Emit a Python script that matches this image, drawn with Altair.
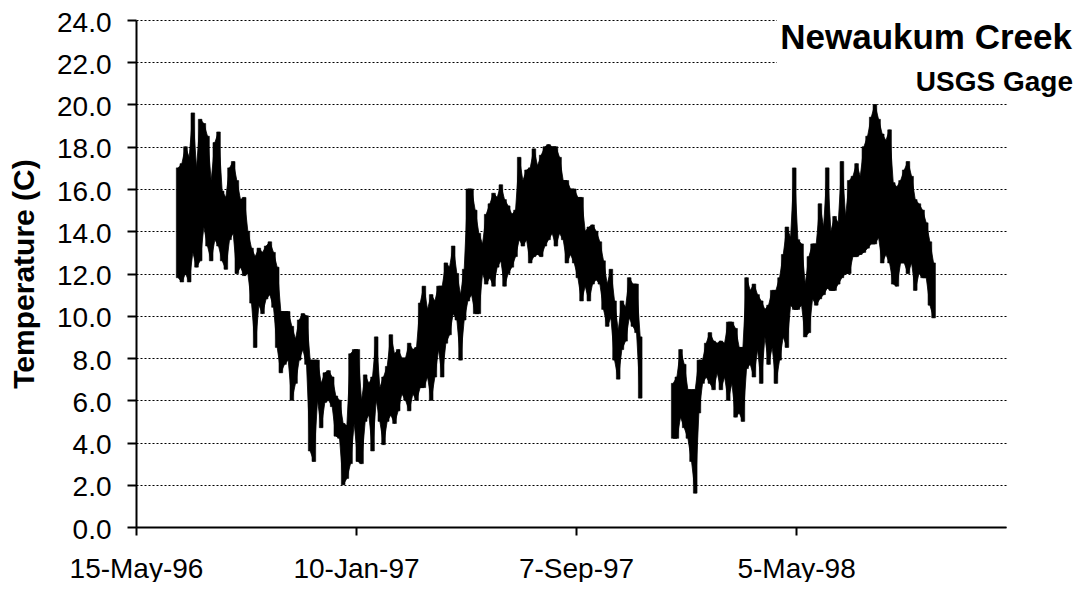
import altair as alt
import pandas as pd

# ---- data (4-day min/max bands) ----
FIRST_DAY_1 = "1996-06-28"
FIRST_DAY_2 = "1997-12-20"
STEP_DAYS = 4

HI_1 = [17.0, 17.2, 18.0, 17.5, 19.6, 17.0, 19.3, 19.1, 18.5, 16.4,
        18.2, 18.7, 15.9, 15.6, 17.0, 17.3, 16.4, 15.5, 15.6, 14.0,
        13.2, 12.8, 13.2, 13.0, 13.3, 13.5, 13.0, 12.3, 10.2, 10.2,
        10.2, 9.5, 8.9, 9.8, 10.1, 10.0, 7.9, 7.9, 7.9, 6.8,
        7.3, 7.4, 7.1, 6.2, 6.0, 4.9, 4.8, 8.2, 8.4, 8.4,
        6.0, 7.2, 6.8, 7.1, 9.0, 6.6, 7.1, 7.6, 9.1, 8.2,
        8.4, 8.0, 8.0, 8.7, 8.4, 8.5, 10.6, 11.4, 10.3, 11.0,
        10.7, 11.4, 11.4, 12.5, 12.3, 13.3, 12.0, 11.0, 12.2, 16.0,
        16.0, 15.0, 13.9, 13.4, 14.8, 15.3, 15.8, 15.6, 16.2, 15.5,
        15.2, 14.8, 15.0, 17.5, 16.4, 16.9, 17.0, 17.9, 17.1, 17.6,
        18.0, 18.1, 18.0, 18.0, 17.5, 16.4, 16.4, 16.0, 16.0, 15.6,
        15.6, 14.0, 14.2, 14.3, 14.0, 13.5, 12.6, 11.5, 12.2, 10.7,
        9.3, 10.7, 10.4, 11.8, 11.5, 11.5, 9.0]
LO_1 = [11.8, 11.6, 12.0, 11.6, 13.0, 12.3, 12.6, 14.2, 13.3, 12.6,
        13.6, 13.3, 12.6, 12.2, 13.6, 13.9, 12.0, 12.3, 11.9, 12.0,
        10.6, 8.5, 10.5, 10.1, 10.8, 11.0, 10.4, 8.5, 7.3, 7.7,
        7.9, 6.0, 6.8, 7.9, 8.4, 7.7, 3.6, 3.1, 6.0, 4.7,
        5.9, 6.0, 5.7, 4.3, 4.2, 2.0, 2.3, 3.0, 4.9, 3.1,
        3.0, 5.0, 5.3, 3.6, 6.0, 5.0, 3.9, 5.0, 5.3, 4.9,
        5.5, 6.3, 6.0, 5.5, 6.3, 6.0, 6.6, 6.6, 7.1, 6.0,
        7.1, 8.4, 7.1, 8.7, 9.1, 10.1, 9.8, 7.9, 9.8, 10.7,
        11.0, 10.1, 10.1, 12.0, 11.5, 11.8, 11.4, 12.3, 12.6, 11.4,
        12.0, 12.3, 12.8, 13.6, 13.3, 13.6, 12.5, 12.8, 12.9, 12.8,
        13.3, 13.6, 13.9, 13.3, 13.9, 13.6, 12.5, 12.9, 12.5, 11.8,
        10.7, 11.4, 10.7, 11.5, 11.7, 11.5, 10.3, 9.5, 9.9, 7.9,
        7.0, 8.4, 8.8, 9.9, 9.5, 9.2, 6.1]
HI_2 = [6.8, 7.1, 8.4, 7.7, 6.5, 6.5, 6.5, 7.9, 7.9, 8.7,
        9.2, 8.8, 8.7, 8.8, 8.7, 9.7, 9.7, 9.4, 8.5, 8.5,
        11.8, 11.2, 11.5, 11.0, 10.7, 10.3, 10.5, 11.2, 11.2, 11.8,
        12.9, 14.2, 13.7, 17.0, 13.6, 13.4, 11.5, 12.8, 13.4, 13.4,
        15.3, 14.2, 17.0, 14.0, 14.7, 14.4, 17.3, 14.7, 16.4, 16.6,
        17.2, 16.6, 18.0, 18.5, 19.4, 20.0, 19.3, 18.6, 18.3, 18.8,
        16.3, 16.1, 16.4, 16.9, 17.3, 16.6, 15.5, 15.3, 15.0, 14.4,
        13.5, 12.5]
LO_2 = [4.2, 4.2, 5.2, 4.7, 4.2, 3.1, 1.6, 5.4, 6.8, 7.1,
        6.8, 6.5, 7.3, 6.5, 7.1, 6.0, 6.8, 5.2, 5.4, 5.0,
        7.5, 7.7, 7.1, 8.4, 6.8, 9.0, 7.7, 8.5, 6.8, 7.9,
        9.0, 8.5, 10.5, 10.3, 10.3, 10.5, 9.0, 9.2, 10.8, 10.5,
        10.8, 11.0, 11.3, 11.2, 11.2, 11.5, 11.8, 12.0, 12.0, 12.8,
        12.8, 12.9, 13.0, 13.2, 13.4, 13.4, 13.7, 12.5, 12.9, 12.5,
        11.5, 11.4, 12.5, 12.5, 12.0, 12.5, 11.2, 12.0, 11.8, 11.8,
        10.5, 9.9]

Y_TICKS = [0, 2, 4, 6, 8, 10, 12, 14, 16, 18, 20, 22, 24]
X_TICKS = [(1996, 5, 15), (1997, 1, 10), (1997, 9, 7), (1998, 5, 5)]
X_DOMAIN = [(1996, 5, 15), (1998, 12, 20)]
TITLE = "Newaukum Creek"
SUBTITLE = "USGS Gage"
Y_TITLE = "Temperature (C)"

rows = []
for seg, (first, his, los) in enumerate([(FIRST_DAY_1, HI_1, LO_1), (FIRST_DAY_2, HI_2, LO_2)]):
    starts = pd.date_range(first, periods=len(his), freq=f"{STEP_DAYS}D")
    for s, h, l in zip(starts, his, los):
        e = s + pd.Timedelta(days=STEP_DAYS)
        m = s + pd.Timedelta(days=STEP_DAYS / 2)
        rows.append({"start": s.strftime("%Y-%m-%d"), "end": e.strftime("%Y-%m-%d"),
                     "mid": m.strftime("%Y-%m-%dT%H:%M:%SZ"),
                     "lo": l, "hi": h, "seg": seg})
df = pd.DataFrame(rows)


def dt(t):
    return alt.DateTime(year=t[0], month=t[1], date=t[2], utc=True)


FONT = "Liberation Sans"
x_scale = alt.Scale(type="utc", domain=[dt(X_DOMAIN[0]), dt(X_DOMAIN[1])])
y_scale = alt.Scale(domain=[0, 24], nice=False, zero=True)

x_enc = alt.X(
    "start:T",
    scale=x_scale,
    axis=alt.Axis(values=[dt(t) for t in X_TICKS], format="%-d-%b-%y", title=None,
                  grid=False, domainColor="black", domainWidth=2, tickColor="black",
                  tickWidth=2, tickSize=8, labelFont=FONT, labelFontSize=28,
                  labelColor="black", labelPadding=20, labelFlush=False,
                  labelOverlap=False),
)
y_enc = alt.Y(
    "lo:Q",
    scale=y_scale,
    axis=alt.Axis(values=Y_TICKS, format=".1f", title=Y_TITLE, grid=True,
                  gridColor="black", gridDash=[2, 2], gridWidth=1.2,
                  domainColor="black", domainWidth=2, tickColor="black", tickWidth=2,
                  tickSize=9, labelFont=FONT, labelFontSize=28, labelColor="black",
                  labelPadding=16, labelOffset=3, titleFont=FONT, titleFontSize=30,
                  titleFontWeight="bold", titleColor="black", titlePadding=17),
)

blank = alt.Chart(pd.DataFrame({"k": [0]})).mark_rect(color="white").encode(
    x=alt.value(641), x2=alt.value(875), y=alt.value(-3), y2=alt.value(80)
)

band_layer = alt.Chart(df).mark_rect(color="black", stroke="black", strokeWidth=0.6).encode(
    x=x_enc, x2="end:T", y=y_enc, y2="hi:Q"
)

core_layer = alt.Chart(df).mark_area(color="black", interpolate="linear",
                                     stroke="black", strokeWidth=0.8).encode(
    x=alt.X("mid:T", scale=x_scale),
    y=alt.Y("lo:Q", scale=y_scale),
    y2="hi:Q",
    detail="seg:N",
)

title_df = pd.DataFrame({"t": [TITLE]})
sub_df = pd.DataFrame({"t": [SUBTITLE]})
title_layer = alt.Chart(title_df).mark_text(
    align="right", baseline="alphabetic", font=FONT, fontSize=35, fontWeight="bold",
    color="black"
).encode(text="t:N", x=alt.value(936), y=alt.value(29))
sub_layer = alt.Chart(sub_df).mark_text(
    align="right", baseline="alphabetic", font=FONT, fontSize=28, fontWeight="bold",
    color="black"
).encode(text="t:N", x=alt.value(937), y=alt.value(71))

chart = alt.layer(blank, band_layer, core_layer, title_layer, sub_layer).properties(
    width=870, height=507,
    autosize=alt.AutoSizeParams(type="none"),
    padding={"left": 128, "top": 12, "right": 72, "bottom": 55},
    background="white",
).configure_view(stroke=None)

chart.save("out.html", embed_options={"renderer": "svg", "actions": False})
